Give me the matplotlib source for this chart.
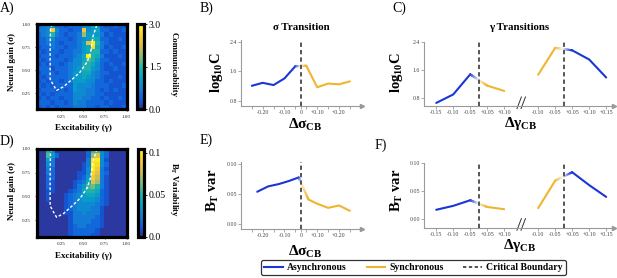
import numpy as np
import matplotlib
matplotlib.use("Agg")
import matplotlib.pyplot as plt
from matplotlib.colors import LinearSegmentedColormap, to_rgb
from matplotlib.collections import LineCollection
from matplotlib.lines import Line2D
from matplotlib.transforms import blended_transform_factory

plt.rcParams['font.family'] = ['Liberation Serif', 'DejaVu Serif']
plt.rcParams['mathtext.fontset'] = 'custom'
plt.rcParams['mathtext.rm'] = 'Liberation Serif'
plt.rcParams['mathtext.bf'] = 'Liberation Serif:bold'
plt.rcParams['mathtext.it'] = 'Liberation Serif:italic'

# ------------------------------------------------------------------ data
# heatmap grid extents (excitability gamma, neural gain sigma)
gamma_range = [-0.03, 1.0]
sigma_range = [0.075, 1.0]
heat_ticks = [0.25, 0.50, 0.75, 1.00]
heat_ticklabels = ['0.25', '0.50', '0.75', '1.00']

# Communicability heatmap, hex levels 0..f (value = (d+0.5)/16 * max), top row = sigma 1.0
comm_rows = [
    "2345221222" "4465211211",
    "334d422122" "d456221112",
    "2347321223" "a555312111",
    "2234222123" "4576221121",
    "2233212223" "5cf7321111",
    "1223221223" "56e6312112",
    "2122212233" "5677221211",
    "1222122234" "6f76311121",
    "2122221244" "6875221111",
    "1212212344" "7764212112",
    "2221222345" "7754211211",
    "1222122355" "6643221111",
    "2122222355" "6543211121",
    "1212212355" "5442212111",
    "2121222254" "4432221112",
    "1222121254" "4332121211",
    "2121222244" "4332211111",
    "1212212244" "3322121121",
    "2221221243" "3222212111",
    "1212122233" "3221221112",
]
comm_max = 3.0

# B_T variability heatmap, hex levels 0..f (value = (d+0.5)/16 * max)
btvar_rows = [
    "0074000000" "0288420000",
    "0085200000" "02ac420000",
    "0053000000" "03ef410000",
    "0043000000" "13fe420000",
    "0032000000" "14fd310000",
    "0032000001" "14ec320000",
    "0022000001" "25db310000",
    "0021000012" "36ca310000",
    "0021000013" "5897310000",
    "0011000123" "6776210000",
    "0010001234" "5665210000",
    "0010001234" "5554210000",
    "0000001234" "4443210000",
    "0000001234" "4433100000",
    "0000001133" "4333100000",
    "0000000133" "3332100000",
    "0000000133" "3322100000",
    "0000000123" "3222100000",
    "0000000122" "2221000000",
    "0000000122" "2211000000",
]
btvar_max = 0.105

# critical boundary on the heatmaps
boundary_gamma = [0.15, 0.13, 0.126, 0.126, 0.164, 0.20, 0.28, 0.39, 0.47, 0.55, 0.59, 0.62, 0.66]
boundary_sigma = [1.00, 0.95, 0.70, 0.40, 0.337, 0.28, 0.32, 0.41, 0.48, 0.59, 0.70, 0.88, 0.99]

# sigma transition (B: log10 C, E: B_T var)
sigB_async_x = [-0.25, -0.20, -0.15, -0.10, -0.05]
sigB_async_y = [1.21, 1.29, 1.23, 1.41, 1.74]
sigB_sync_x = [0.05, 0.10, 0.15, 0.20, 0.25]
sigB_sync_y = [1.75, 1.17, 1.27, 1.25, 1.33]

sigE_async_x = [-0.225, -0.175, -0.125, -0.08, -0.035]
sigE_async_y = [0.054, 0.063, 0.067, 0.072, 0.078]
sigE_sync_x = [0.06, 0.10, 0.15, 0.20, 0.25]
sigE_sync_y = [0.041, 0.034, 0.027, 0.031, 0.022]

sig_tick_vals = [-0.25, -0.20, -0.15, -0.10, -0.05, 0, 0.05, 0.10, 0.15, 0.20, 0.25]
sig_tick_labels = ['', '-0.20', '', '-0.10', '', '0', '', '+0.10', '', '+0.20', '']

# gamma transitions (C: log10 C, F: B_T var); left = first boundary, right = second
gamL_async_x = [-0.15, -0.10, -0.05]
gamL_sync_x = [0.05, 0.10]
gamR_sync_x = [-0.10, -0.05]
gamR_async_x = [0.05, 0.10, 0.15]

gamL_async_C = [0.66, 0.90, 1.47]
gamL_sync_C = [1.15, 1.00]
gamR_sync_C = [1.46, 2.22]
gamR_async_C = [2.15, 1.89, 1.38]

gamL_async_B = [0.017, 0.024, 0.034]
gamL_sync_B = [0.022, 0.018]
gamR_sync_B = [0.020, 0.069]
gamR_async_B = [0.084, 0.061, 0.040]

gamL_ticks = [-0.15, -0.10, -0.05, 0.05, 0.10]
gamL_ticklabels = ['-0.15', '-0.10', '-0.05', '+0.05', '+0.10']
gamR_ticks = [-0.10, -0.05, 0.05, 0.10, 0.15]
gamR_ticklabels = ['-0.10', '-0.05', '+0.05', '+0.10', '+0.15']

logC_ticks = [0.8, 1.6, 2.4]
logC_ticklabels = ['0.8', '1.6', '2.4']
bt_ticks = [0.0, 0.05, 0.10]
bt_ticklabels = ['0.00', '0.05', '0.10']

legend_labels = ['Asynchronous', 'Synchronous', 'Critical Boundary']

# ------------------------------------------------------------------ style
BLUE = '#1a37d6'
YELLOW = '#f0b530'
DASH = '#555555'
GRAY = '#9a9a9a'
LW = 1.5

parula = LinearSegmentedColormap.from_list('parula', [
    (0.000, (0.2081, 0.1663, 0.5292)),
    (0.111, (0.0592, 0.3599, 0.8684)),
    (0.238, (0.0780, 0.5002, 0.8342)),
    (0.365, (0.0200, 0.6300, 0.7900)),
    (0.492, (0.1537, 0.7107, 0.6539)),
    (0.619, (0.5137, 0.7458, 0.4627)),
    (0.746, (0.8358, 0.7405, 0.3285)),
    (0.873, (0.9892, 0.8031, 0.1911)),
    (1.000, (0.9763, 0.9831, 0.0538)),
])

W, H = 617, 278
fig = plt.figure(figsize=(W / 100, H / 100), dpi=100)


def add_ax(x0, y0, x1, y1):
    return fig.add_axes([x0 / W, 1 - y1 / H, (x1 - x0) / W, (y1 - y0) / H])


def ftxt(x, y, s, **kw):
    fig.text(x / W, 1 - y / H, s, **kw)


# ------------------------------------------------------------------ heatmaps
def heatmap(box, cbox, rows, vmax, cticks, cticklabels):
    ax = add_ax(*box)
    arr = (np.array([[int(c, 16) for c in r] for r in rows], float) + 0.5) / 16.0 * vmax
    im = ax.imshow(arr, cmap=parula, vmin=0, vmax=vmax, aspect='auto', interpolation='nearest',
                   extent=[gamma_range[0], gamma_range[1], sigma_range[0], sigma_range[1]])
    ax.plot(boundary_gamma, boundary_sigma, color='white', ls=(0, (2, 1.5)), lw=1.0)
    ax.set_xlim(gamma_range)
    ax.set_ylim(sigma_range)
    ax.set_xticks(heat_ticks)
    ax.set_xticklabels(heat_ticklabels)
    ax.set_yticks(heat_ticks)
    ax.set_yticklabels(heat_ticklabels)
    ax.tick_params(labelsize=3.6, length=1.5, width=0.5, pad=2.5, labelcolor='#222222')
    for s in ax.spines.values():
        s.set_linewidth(2.3)
        s.set_color('black')
    cax = add_ax(*cbox)
    cb = fig.colorbar(im, cax=cax, ticks=cticks)
    cb.set_ticklabels(cticklabels)
    cb.outline.set_linewidth(2.3)
    cax.tick_params(labelsize=7, length=2, width=0.6, pad=1.5)
    return ax


heatmap((36.5, 24.2, 126.5, 109.2), (136.5, 24.2, 144.2, 109.2), comm_rows, comm_max,
        [0, 1.5, 3.0], ['0.0', '1.5', '3.0'])
heatmap((36.5, 148.8, 126.5, 236.8), (137.5, 148.8, 144.2, 236.8), btvar_rows, btvar_max,
        [0, 0.05, 0.10], ['0.0', '0.05', '0.1'])

for yc_label, yc_x in ((62.5, 128), (191, 256.5)):
    ftxt(12.5, yc_label, 'Neural gain (σ)', rotation=90, ha='center', va='center',
         fontsize=6.5, fontweight='bold')
    ftxt(83, yc_x, 'Excitability (γ)', ha='center', va='center', fontsize=6.5, fontweight='bold')
ftxt(174, 65, 'Communicability', rotation=270, ha='center', va='center', fontsize=6.3,
     fontweight='bold')
ftxt(174, 190, r'$\mathbf{B_T}$ Variability', rotation=270, ha='center', va='center',
     fontsize=6.3, fontweight='bold')


# ------------------------------------------------------------------ line panels
def upos(d, offset=0.0):
    d = np.asarray(d, float)
    return d / 0.05 - 0.5 * np.sign(d) + offset


def style_line_axes(ax):
    for s in ('top', 'right'):
        ax.spines[s].set_visible(False)
    for s in ('left', 'bottom'):
        ax.spines[s].set_color(GRAY)
        ax.spines[s].set_linewidth(0.8)
    ax.tick_params(colors=GRAY, labelcolor='#444444', length=2, width=0.6, labelsize=4.2, pad=0.8)
    ax.plot(1, 0, marker='>', ms=3, color=GRAY, transform=ax.transAxes, clip_on=False)
    ax.patch.set_alpha(0)


def fade_seg(ax, p0, p1, xb, c0, c1):
    t = np.linspace(0, 1, 41)
    xs = p0[0] + (p1[0] - p0[0]) * t
    ys = p0[1] + (p1[1] - p0[1]) * t
    tb = (xb - p0[0]) / (p1[0] - p0[0])
    c0 = np.array(to_rgb(c0))
    c1 = np.array(to_rgb(c1))
    cols = []
    for tm in 0.5 * (t[:-1] + t[1:]):
        if tm < tb:
            f = 0.92 * tm / tb
            base = c0
        else:
            f = 0.92 * (1 - tm) / (1 - tb)
            base = c1
        cols.append(base * (1 - f) + f)
    segs = np.stack([np.column_stack([xs[:-1], ys[:-1]]),
                     np.column_stack([xs[1:], ys[1:]])], axis=1)
    ax.add_collection(LineCollection(segs, colors=cols, linewidths=LW, capstyle='round'))


def transition(ax, lx, ly, lc, rx, ry, rc, offset):
    ux_l = upos(lx, offset)
    ux_r = upos(rx, offset)
    ax.plot(ux_l, ly, color=lc, lw=LW, solid_capstyle='round')
    ax.plot(ux_r, ry, color=rc, lw=LW, solid_capstyle='round')
    fade_seg(ax, (ux_l[-1], ly[-1]), (ux_r[0], ry[0]), offset, lc, rc)
    ax.axvline(offset, color=DASH, ls=(0, (2.2, 1.6)), lw=1.4, zorder=4)


def break_mark(ax, xpos):
    tr = blended_transform_factory(ax.transData, ax.transAxes)
    for off in (-0.12, 0.12):
        ax.plot([xpos + off - 0.13, xpos + off + 0.13], [-0.04, 0.14], color='#333333', lw=0.7,
                transform=tr, clip_on=False)


GAP = 5.0  # spacing between the two gamma transitions (in tick units)

# B
axB = add_ax(241, 39.5, 362, 106)
style_line_axes(axB)
transition(axB, sigB_async_x, sigB_async_y, BLUE, sigB_sync_x, sigB_sync_y, YELLOW, 0.0)
axB.set_xlim(-5.49, 5.61)
axB.set_ylim(0.665, 2.459)
axB.set_xticks(upos(sig_tick_vals))
axB.set_xticklabels(sig_tick_labels)
axB.set_yticks(logC_ticks)
axB.set_yticklabels(logC_ticklabels)

# E
axE = add_ax(241, 161.5, 362, 229)
style_line_axes(axE)
transition(axE, sigE_async_x, sigE_async_y, BLUE, sigE_sync_x, sigE_sync_y, YELLOW, 0.0)
axE.set_xlim(-5.49, 5.61)
axE.set_ylim(-0.0084, 0.1047)
axE.set_xticks(upos(sig_tick_vals))
axE.set_xticklabels(sig_tick_labels)
axE.set_yticks(bt_ticks)
axE.set_yticklabels(bt_ticklabels)


def gamma_axes(box, ylim, Ldata, Rdata, yticks, yticklabels):
    ax = add_ax(*box)
    style_line_axes(ax)
    transition(ax, gamL_async_x, Ldata[0], BLUE, gamL_sync_x, Ldata[1], YELLOW, 0.0)
    transition(ax, gamR_sync_x, Rdata[0], YELLOW, gamR_async_x, Rdata[1], BLUE, GAP)
    ax.set_xlim(-3.22, 7.96)
    ax.set_ylim(*ylim)
    ax.set_xticks(list(upos(gamL_ticks)) + list(upos(gamR_ticks, GAP)))
    ax.set_xticklabels(gamL_ticklabels + gamR_ticklabels)
    ax.set_yticks(yticks)
    ax.set_yticklabels(yticklabels)
    break_mark(ax, GAP / 2)
    return ax


gamma_axes((424, 41.5, 614, 106), (0.573, 2.40), (gamL_async_C, gamL_sync_C),
           (gamR_sync_C, gamR_async_C), logC_ticks, logC_ticklabels)
gamma_axes((424, 163, 614, 227.7), (-0.015, 0.1005), (gamL_async_B, gamL_sync_B),
           (gamR_sync_B, gamR_async_B), bt_ticks, bt_ticklabels)

# titles and labels
ftxt(301, 28, 'σ Transition', ha='center', va='center', fontsize=7.8, fontweight='bold')
ftxt(519, 28, 'γ Transitions', ha='center', va='center', fontsize=7.8, fontweight='bold')
for x, y in ((216, 73), (396, 73)):
    ftxt(x, y, r'$\mathbf{log_{10}C}$', rotation=90, ha='center', va='center', fontsize=10.5)
for x, y in ((213, 190), (396.5, 190)):
    ftxt(x, y, r'$\mathbf{B_T\ var}$', rotation=90, ha='center', va='center', fontsize=10.5)
ftxt(305, 125, r'$\mathbf{\Delta\sigma_{CB}}$', ha='center', va='center', fontsize=11)
ftxt(305, 252, r'$\mathbf{\Delta\sigma_{CB}}$', ha='center', va='center', fontsize=11)
ftxt(521, 123, r'$\mathbf{\Delta\gamma_{CB}}$', ha='center', va='center', fontsize=11)
ftxt(520, 246, r'$\mathbf{\Delta\gamma_{CB}}$', ha='center', va='center', fontsize=11)

# panel letters
for s, x, y in (('A)', 0, 8), ('B)', 200, 8), ('C)', 392, 8),
                ('D)', 0, 141), ('E)', 200, 140), ('F)', 375, 145)):
    ftxt(x, y, s, ha='left', va='center', fontsize=10)

# legend
handles = [Line2D([], [], color=BLUE, lw=1.5),
           Line2D([], [], color=YELLOW, lw=1.5),
           Line2D([], [], color='#333333', lw=1.2, ls=(0, (2, 1.5)))]
leg = fig.legend(handles, legend_labels, loc='center', bbox_to_anchor=(413.5 / W, 1 - 267.5 / H),
                 ncol=3, frameon=True, fancybox=True, edgecolor='black',
                 prop=dict(weight='bold', size=7), handlelength=1.9, handletextpad=0.45,
                 columnspacing=2.0, borderpad=0.35)
leg.get_frame().set_linewidth(0.9)

fig.savefig('out.png', dpi=100)
